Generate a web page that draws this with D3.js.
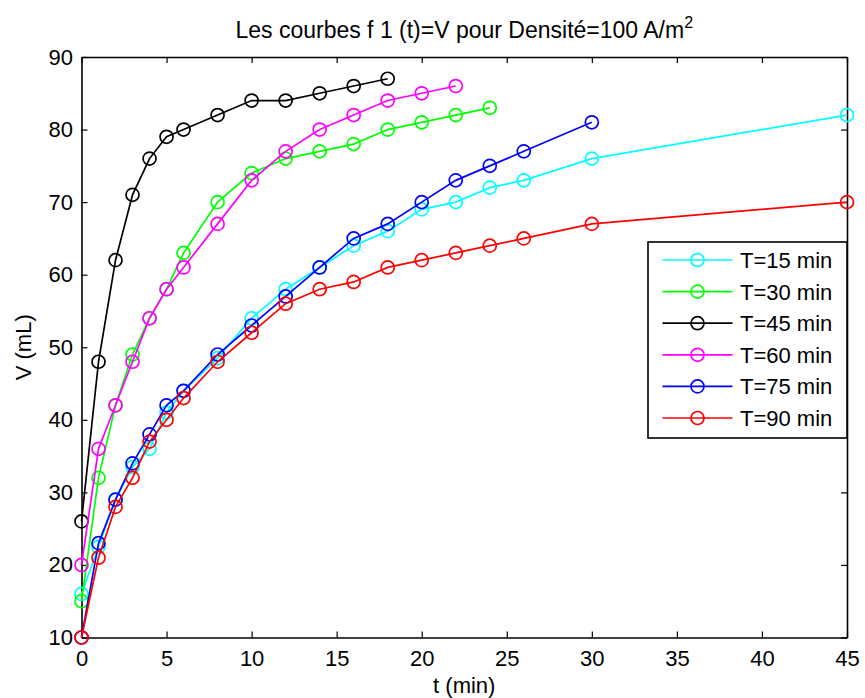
<!DOCTYPE html>
<html>
<head>
<meta charset="utf-8">
<script src="https://cdn.jsdelivr.net/npm/d3@7"></script>
<style>
  html, body { margin: 0; padding: 0; background: #fff; }
  svg { display: block; font-family: "Liberation Sans", Arial, Helvetica, sans-serif; }
</style>
</head>
<body>
<svg id="chart" width="865" height="698"></svg>
<script>
// Volume V (mL) versus time t (min) for each electrolysis duration T
const seriesNames = ["T=15 min", "T=30 min", "T=45 min", "T=60 min", "T=75 min", "T=90 min"];
const seriesColors = ["#00ffff", "#00ff00", "#000000", "#ff00ff", "#0000ff", "#ff0000"];

const t15 = [0, 1, 2, 3, 4, 5, 6, 8, 10, 12, 14, 16, 18, 20, 22, 24, 26, 30, 45];
const v15 = [16, 22.5, 29, 33.5, 36, 41, 44, 48.5, 54, 58, 61, 64, 66, 69, 70, 72, 73, 76, 82];

const t30 = [0, 1, 2, 3, 4, 5, 6, 8, 10, 12, 14, 16, 18, 20, 22, 24];
const v30 = [15, 32, 42, 49, 54, 58, 63, 70, 74, 76, 77, 78, 80, 81, 82, 83];

const t45 = [0, 1, 2, 3, 4, 5, 6, 8, 10, 12, 14, 16, 18];
const v45 = [26, 48, 62, 71, 76, 79, 80, 82, 84, 84, 85, 86, 87];

const t60 = [0, 1, 2, 3, 4, 5, 6, 8, 10, 12, 14, 16, 18, 20, 22];
const v60 = [20, 36, 42, 48, 54, 58, 61, 67, 73, 77, 80, 82, 84, 85, 86];

const t75 = [0, 1, 2, 3, 4, 5, 6, 8, 10, 12, 14, 16, 18, 20, 22, 24, 26, 30];
const v75 = [10, 23, 29, 34, 38, 42, 44, 49, 53, 57, 61, 65, 67, 70, 73, 75, 77, 81];

const t90 = [0, 1, 2, 3, 4, 5, 6, 8, 10, 12, 14, 16, 18, 20, 22, 24, 26, 30, 45];
const v90 = [10, 21, 28, 32, 37, 40, 43, 48, 52, 56, 58, 59, 61, 62, 63, 64, 65, 67, 70];

const xTicks = [0, 5, 10, 15, 20, 25, 30, 35, 40, 45];
const yTicks = [10, 20, 30, 40, 50, 60, 70, 80, 90];

const times = [t15, t30, t45, t60, t75, t90];
const volumes = [v15, v30, v45, v60, v75, v90];

const series = seriesNames.map((name, i) => ({
  name,
  color: seriesColors[i],
  points: times[i].map((t, j) => ({ t, v: volumes[i][j] }))
}));

const svg = d3.select("#chart");
const plotLeft = 81.5, plotRight = 847, plotTop = 57, plotBottom = 637.5;

const x = d3.scaleLinear().domain([0, 45]).range([plotLeft, plotRight]);
const y = d3.scaleLinear().domain([10, 90]).range([plotBottom, plotTop]);

const tickLen = 6;
const fontSize = 22;
const fontFamily = "'Liberation Sans', Arial, sans-serif";

// Box and ticks (ticks inside on all four sides)
const axes = svg.append("g");

const xAxisB = d3.axisBottom(x).tickValues(xTicks).tickSizeInner(-tickLen).tickSizeOuter(0).tickPadding(12.5).tickFormat(d3.format("d"));
const xAxisT = d3.axisTop(x).tickValues(xTicks).tickSizeInner(-tickLen).tickSizeOuter(0).tickFormat("");
const yAxisL = d3.axisLeft(y).tickValues(yTicks).tickSizeInner(-tickLen).tickSizeOuter(0).tickPadding(8.5).tickFormat(d3.format("d"));
const yAxisR = d3.axisRight(y).tickValues(yTicks).tickSizeInner(-tickLen).tickSizeOuter(0).tickFormat("");

const gB = axes.append("g").attr("transform", `translate(0,${plotBottom})`).call(xAxisB);
const gT = axes.append("g").attr("transform", `translate(0,${plotTop})`).call(xAxisT);
const gL = axes.append("g").attr("transform", `translate(${plotLeft},0)`).call(yAxisL);
const gR = axes.append("g").attr("transform", `translate(${plotRight},0)`).call(yAxisR);

[gB, gT, gL, gR].forEach(g => {
  g.select(".domain").attr("stroke", "#000").attr("stroke-width", 1.6);
  g.selectAll(".tick line").attr("stroke", "#000").attr("stroke-width", 1.2);
  g.selectAll(".tick text")
    .attr("fill", "#000")
    .style("font-size", fontSize + "px")
    .style("font-family", fontFamily);
});

// Series lines and circle markers
const line = d3.line().x(d => x(d.t)).y(d => y(d.v));
const plot = svg.append("g");

series.forEach(s => {
  const g = plot.append("g");
  g.append("path")
    .datum(s.points)
    .attr("fill", "none")
    .attr("stroke", s.color)
    .attr("stroke-width", 1.7)
    .attr("d", line);
  g.selectAll("circle")
    .data(s.points)
    .join("circle")
    .attr("cx", d => x(d.t))
    .attr("cy", d => y(d.v))
    .attr("r", 6.5)
    .attr("fill", "none")
    .attr("stroke", s.color)
    .attr("stroke-width", 1.7);
});

// Title with superscript
const title = svg.append("text")
  .attr("x", (plotLeft + plotRight) / 2)
  .attr("y", 38)
  .attr("text-anchor", "middle")
  .style("font-size", "23px")
  .style("font-family", fontFamily)
  .attr("fill", "#000");
title.append("tspan").text("Les courbes f 1 (t)=V pour Densité=100 A/m");
title.append("tspan").attr("dy", -10).style("font-size", "16px").text("2");

// Axis labels
svg.append("text")
  .attr("x", (plotLeft + plotRight) / 2)
  .attr("y", 693)
  .attr("text-anchor", "middle")
  .style("font-size", fontSize + "px")
  .style("font-family", fontFamily)
  .attr("fill", "#000")
  .text("t (min)");

svg.append("text")
  .attr("transform", `translate(31,${(plotTop + plotBottom) / 2}) rotate(-90)`)
  .attr("text-anchor", "middle")
  .style("font-size", fontSize + "px")
  .style("font-family", fontFamily)
  .attr("fill", "#000")
  .text("V (mL)");

// Legend
const legX = 648, legY = 242, legW = 199, legH = 196;
const legend = svg.append("g");
legend.append("rect")
  .attr("x", legX).attr("y", legY)
  .attr("width", legW).attr("height", legH)
  .attr("fill", "#fff")
  .attr("stroke", "#000")
  .attr("stroke-width", 1.6);

const rowY = d3.scalePoint().domain(seriesNames).range([260, 418]);

series.forEach(s => {
  const yy = rowY(s.name);
  legend.append("line")
    .attr("x1", 662.5).attr("x2", 732.5)
    .attr("y1", yy).attr("y2", yy)
    .attr("stroke", s.color).attr("stroke-width", 1.7);
  legend.append("circle")
    .attr("cx", 697.5).attr("cy", yy).attr("r", 6.5)
    .attr("fill", "none").attr("stroke", s.color).attr("stroke-width", 1.7);
  legend.append("text")
    .attr("x", 740).attr("y", yy)
    .attr("dy", "0.36em")
    .style("font-size", fontSize + "px")
    .style("font-family", fontFamily)
    .attr("fill", "#000")
    .text(s.name);
});
</script>
</body>
</html>
